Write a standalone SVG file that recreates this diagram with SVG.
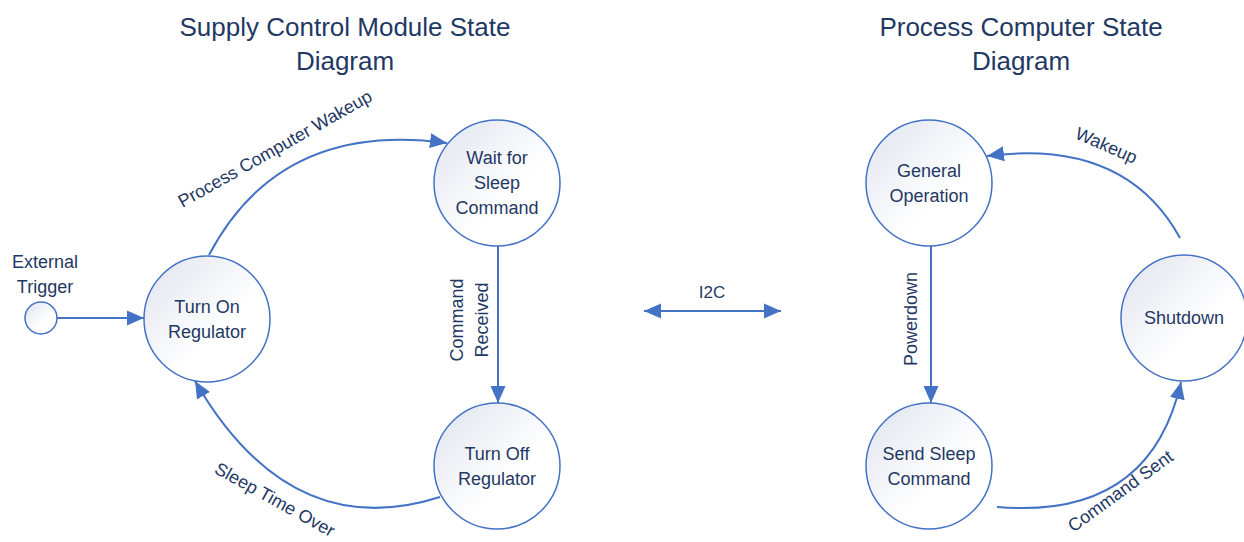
<svg xmlns="http://www.w3.org/2000/svg" width="1244" height="542" viewBox="0 0 1244 542">
  <style>
    .node { fill: url(#nodeFill); stroke: #4472C4; stroke-width: 1.5; }
    .conn { fill: none; stroke: #4472C4; stroke-width: 2; }
    .t { font-family: "Liberation Sans", Arial, sans-serif; font-size: 18px; fill: #1F3864; text-anchor: middle; }
    .title { font-family: "Liberation Sans", Arial, sans-serif; font-size: 26px; fill: #1F3864; text-anchor: middle; }
  </style>
  <defs>
    <linearGradient id="nodeFill" x1="0" y1="0" x2="1" y2="1">
      <stop offset="0" stop-color="#DFE3EE"/>
      <stop offset="0.6" stop-color="#FFFFFF"/>
      <stop offset="1" stop-color="#FFFFFF"/>
    </linearGradient>
    <marker id="arr" markerWidth="18" markerHeight="16" refX="17" refY="8" orient="auto-start-reverse" markerUnits="userSpaceOnUse">
      <path d="M0,0.5 L17,8 L0,15.5 z" fill="#4472C4"/>
    </marker>
  </defs>

  <g id="titles">
    <text class="title" x="345" y="36">Supply Control Module State</text>
    <text class="title" x="345" y="70">Diagram</text>
    <text class="title" x="1021" y="36">Process Computer State</text>
    <text class="title" x="1021" y="70">Diagram</text>
  </g>

  <g id="connectors">
    <line class="conn" x1="57" y1="318" x2="144" y2="318" marker-end="url(#arr)"/>
    <path class="conn" d="M209,255 Q280,120 447,143" marker-end="url(#arr)"/>
    <line class="conn" x1="498" y1="246" x2="498" y2="403" marker-end="url(#arr)"/>
    <path class="conn" d="M440,497 Q290,545 195,381" marker-end="url(#arr)"/>
    <line class="conn" x1="644" y1="311" x2="781" y2="311" marker-start="url(#arr)" marker-end="url(#arr)"/>
    <line class="conn" x1="931" y1="246" x2="931" y2="403" marker-end="url(#arr)"/>
    <path class="conn" d="M997,507 Q1150,520 1181,382" marker-end="url(#arr)"/>
    <path class="conn" d="M1180,238 Q1125,138 987,156" marker-end="url(#arr)"/>
  </g>

  <g id="connector-labels">
    <text class="t" transform="translate(278,154) rotate(-29.5)">Process Computer Wakeup</text>
    <text class="t" transform="translate(463,320) rotate(-90)">Command</text>
    <text class="t" transform="translate(488,320) rotate(-90)">Received</text>
    <text class="t" transform="translate(272,505) rotate(29)">Sleep Time Over</text>
    <text class="t" x="712" y="298" style="font-size:17px">I2C</text>
    <text class="t" transform="translate(917,319) rotate(-90)">Powerdown</text>
    <text class="t" transform="translate(1124,496) rotate(-36)">Command Sent</text>
    <text class="t" transform="translate(1104,151) rotate(23.5)">Wakeup</text>
  </g>

  <g id="external-trigger">
    <circle class="node" cx="41" cy="318" r="16"/>
    <text class="t" x="45" y="268">External</text>
    <text class="t" x="45" y="293">Trigger</text>
  </g>

  <g id="turn-on-regulator">
    <circle class="node" cx="207" cy="319" r="63"/>
    <text class="t" x="207" y="312.5">Turn On</text>
    <text class="t" x="207" y="337.5">Regulator</text>
  </g>

  <g id="wait-for-sleep-command">
    <circle class="node" cx="497" cy="183" r="63"/>
    <text class="t" x="497" y="164">Wait for</text>
    <text class="t" x="497" y="189">Sleep</text>
    <text class="t" x="497" y="214">Command</text>
  </g>

  <g id="turn-off-regulator">
    <circle class="node" cx="497" cy="466" r="63"/>
    <text class="t" x="497" y="459.5">Turn Off</text>
    <text class="t" x="497" y="484.5">Regulator</text>
  </g>

  <g id="general-operation">
    <circle class="node" cx="929" cy="183" r="63"/>
    <text class="t" x="929" y="176.5">General</text>
    <text class="t" x="929" y="201.5">Operation</text>
  </g>

  <g id="shutdown">
    <circle class="node" cx="1184" cy="318" r="63"/>
    <text class="t" x="1184" y="324">Shutdown</text>
  </g>

  <g id="send-sleep-command">
    <circle class="node" cx="929" cy="466" r="63"/>
    <text class="t" x="929" y="459.5">Send Sleep</text>
    <text class="t" x="929" y="484.5">Command</text>
  </g>
</svg>
